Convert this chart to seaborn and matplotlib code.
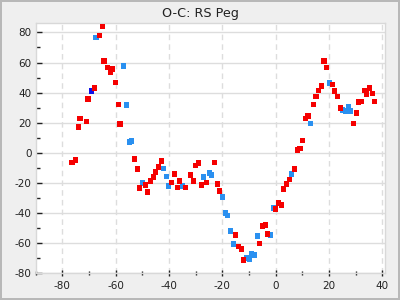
import matplotlib
matplotlib.use("Agg")
import matplotlib.pyplot as plt
import seaborn as sns
import pandas as pd
from matplotlib.ticker import MultipleLocator

# Data
light_x = [-67.3, -57.1, -56.0, -54.9, -54.1, -50.0, -42.1, -41.0, -40.1, -35.0,
           -27.1, -24.9, -24.1, -20.0, -18.9, -18.1, -17.0, -15.9, -11.0, -9.9,
           -9.1, -8.0, -6.9, -2.0, -0.9, 5.9, 13.0, 20.1, 25.0, 26.1, 27.2, 28.0]
light_y = [76.8, 57.6, 31.7, 7.1, 7.8, -20.1, -10.2, -15.5, -22.1, -22.1,
           -16.1, -13.5, -14.8, -29.4, -40.0, -41.4, -52.0, -60.6, -69.9, -70.6,
           -67.3, -67.9, -55.3, -54.6, -36.7, -14.1, 19.7, 46.3, 28.4, 27.7, 31.0, 27.7]

dark_x = [-69.1]
dark_y = [41.0]

red_x = [-76.3, -75.1, -74.0, -73.3, -71.0, -70.3, -68.0, -66.1, -65.0, -64.3,
         -63.1, -62.0, -61.3, -60.1, -59.0, -58.3, -53.0, -51.9, -51.1, -48.9,
         -48.1, -47.0, -45.9, -45.1, -44.0, -42.9, -39.1, -38.0, -36.9, -36.1,
         -33.9, -32.0, -30.9, -30.1, -29.0, -27.9, -26.0, -23.0, -21.9, -21.1,
         -15.1, -14.0, -12.9, -12.1, -6.1, -5.0, -3.9, -3.1, -0.1, 1.0,
         2.1, 2.9, 4.0, 5.1, 7.0, 8.1, 9.2, 10.0, 11.1, 12.2,
         14.1, 15.2, 16.0, 17.1, 18.2, 19.0, 21.2, 22.0, 23.1, 24.2,
         29.1, 30.2, 31.0, 32.1, 33.2, 34.0, 35.1, 36.2, 37.0]
red_y = [-6.2, -4.8, 17.1, 23.0, 21.0, 35.7, 43.0, 78.1, 84.1, 60.9,
         56.9, 53.6, 55.6, 46.9, 32.3, 19.1, -4.2, -10.8, -23.4, -21.4,
         -26.1, -18.8, -16.1, -12.8, -9.5, -5.5, -19.5, -14.1, -22.8, -18.8,
         -22.8, -14.8, -18.8, -8.2, -6.8, -21.4, -19.5, -6.2, -20.8, -25.4,
         -54.6, -62.0, -63.9, -71.2, -60.0, -48.7, -48.0, -54.0, -37.4, -33.4,
         -34.7, -24.1, -20.8, -17.5, -10.8, 1.8, 3.1, 8.4, 23.0, 24.4,
         32.3, 37.6, 41.6, 44.3, 60.9, 56.9, 45.6, 41.0, 37.6, 29.7,
         19.7, 26.4, 33.7, 34.3, 41.6, 39.0, 43.0, 39.6, 34.3]

title = "O-C: RS Peg"
x_ticks = [-80, -60, -40, -20, 0, 20, 40]
y_ticks = [-80, -60, -40, -20, 0, 20, 40, 60, 80]

df = pd.concat([
    pd.DataFrame({"x": light_x, "y": light_y, "s": "light"}),
    pd.DataFrame({"x": dark_x, "y": dark_y, "s": "dark"}),
    pd.DataFrame({"x": red_x, "y": red_y, "s": "red"}),
], ignore_index=True)

sns.set_style("white")
plt.rcParams["font.family"] = ["DejaVu Sans"]
plt.rcParams["axes.unicode_minus"] = False

fig = plt.figure(figsize=(4, 3), dpi=100, facecolor="#efefef",
                 edgecolor="#b8b8b8", linewidth=1.5)
ax = fig.add_axes([0.089, 0.089, 0.8735, 0.833])
ax.set_facecolor("white")

palette = {"light": "#2a90f0", "dark": "#1010e8", "red": "#f50000"}
sns.scatterplot(data=df, x="x", y="y", hue="s", palette=palette, marker="s",
                s=15, linewidth=0, legend=False, ax=ax, zorder=3)

ax.set_xlim(-90, 41)
ax.set_ylim(-80, 86)
ax.set_xticks(x_ticks)
ax.set_yticks(y_ticks)
ax.set_xticklabels([str(v) for v in x_ticks])
ax.set_yticklabels([str(v) for v in y_ticks])
ax.xaxis.set_minor_locator(MultipleLocator(10))
ax.yaxis.set_minor_locator(MultipleLocator(10))
ax.set_xlabel("")
ax.set_ylabel("")

ax.grid(axis="y", which="major", color="#dddddd", linestyle="-", linewidth=1)
ax.grid(axis="x", which="major", color="#dddddd", linestyle=(0, (4, 3)), linewidth=1)
ax.set_axisbelow(True)

for sp in ax.spines.values():
    sp.set_color("#d8d8d8")
    sp.set_linewidth(1)

ax.tick_params(axis="both", which="major", labelsize=7.5, colors="#222222",
               length=4.5, width=1, direction="in", pad=3)
ax.tick_params(axis="both", which="minor", length=3, width=1,
               direction="in", colors="#222222")
ax.tick_params(axis="x", which="both", direction="inout")
ax.tick_params(axis="both", which="both", top=False, right=False,
               bottom=True, left=True)

fig.text(0.5, 0.955, title, ha="center", va="center", fontsize=9.2,
         color="#222222")

fig.savefig("out.png", dpi=100, facecolor=fig.get_facecolor(),
            edgecolor=fig.get_edgecolor())
